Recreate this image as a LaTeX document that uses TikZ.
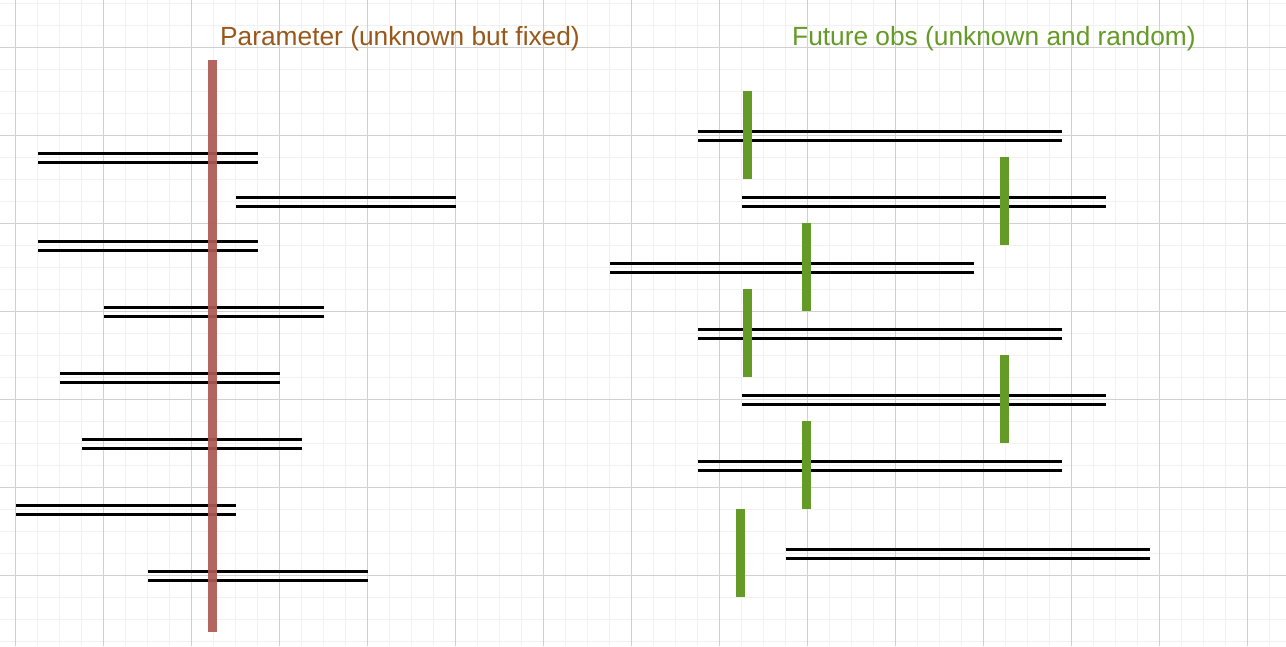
\documentclass[tikz,border=0pt]{standalone}
\usepackage{fontspec}
\setmainfont{Liberation Sans}
\usepackage{tikz}
\usetikzlibrary{positioning}

\definecolor{minorgray}{RGB}{241,241,241}
\definecolor{majorgray}{RGB}{208,208,208}
\definecolor{parambrown}{RGB}{151,88,26}
\definecolor{obsgreen}{RGB}{100,154,38}
\definecolor{paramred}{RGB}{173,90,82}

\begin{document}
\begin{tikzpicture}[x=1pt,y=-1pt,
    minorline/.style={minorgray,line width=1.2pt},
    majorline/.style={majorgray,line width=0.9pt},
    interval/.style={black,line width=2.3pt},
    parambar/.style={paramred,line width=9pt,opacity=0.92},
    obsbar/.style={obsgreen,line width=8.5pt},
    title/.style={anchor=base west,inner sep=0pt,font=\fontsize{26.3}{31}\selectfont}]
            \fill[white] (0,0) rectangle (1286,646);
            \useasboundingbox (0,0) rectangle (1286,646);
            % grid
            \foreach \gx in {15.5,37.5,...,1286} \draw[minorline] (\gx,0)--(\gx,646);
            \foreach \gy in {3.5,25.5,...,646} \draw[minorline] (0,\gy)--(1286,\gy);
            \foreach \gx in {15.5,103.5,...,1286} \draw[majorline] (\gx,0)--(\gx,646);
            \foreach \gy in {47.5,135.5,...,646} \draw[majorline] (0,\gy)--(1286,\gy);
            % titles
            \node[title,text=parambrown] (paramtitle) at (220,45) {Parameter (unknown but fixed)};
            \node[title,text=obsgreen] (obstitle) at (792,45) {Future obs (unknown and random)};
            % confidence intervals around the parameter
            \foreach \xa/\yc in {38/158,236/202,38/246,104/312,60/378,82/444,16/510,148/576}
            {
                \draw[interval] (\xa,\yc-4.5)--++(220,0);
                \draw[interval] (\xa,\yc+4.5)--++(220,0);
            }
            \draw[parambar] (212.8,60)--(212.8,632);
            % prediction intervals and future obs
            \foreach \xa/\yc in {698/136,742/202,610/268,698/334,742/400,698/466,786/554}
            {
                \draw[interval] (\xa,\yc-4.5)--++(364,0);
                \draw[interval] (\xa,\yc+4.5)--++(364,0);
            }
            \foreach \xb/\yb in {747.5/135,1004.7/201,806.7/267,747.5/333,1004.7/399,806.7/465,740.7/553}
                \draw[obsbar] (\xb,\yb-44)--(\xb,\yb+44);
        \end{tikzpicture}
\end{document}
